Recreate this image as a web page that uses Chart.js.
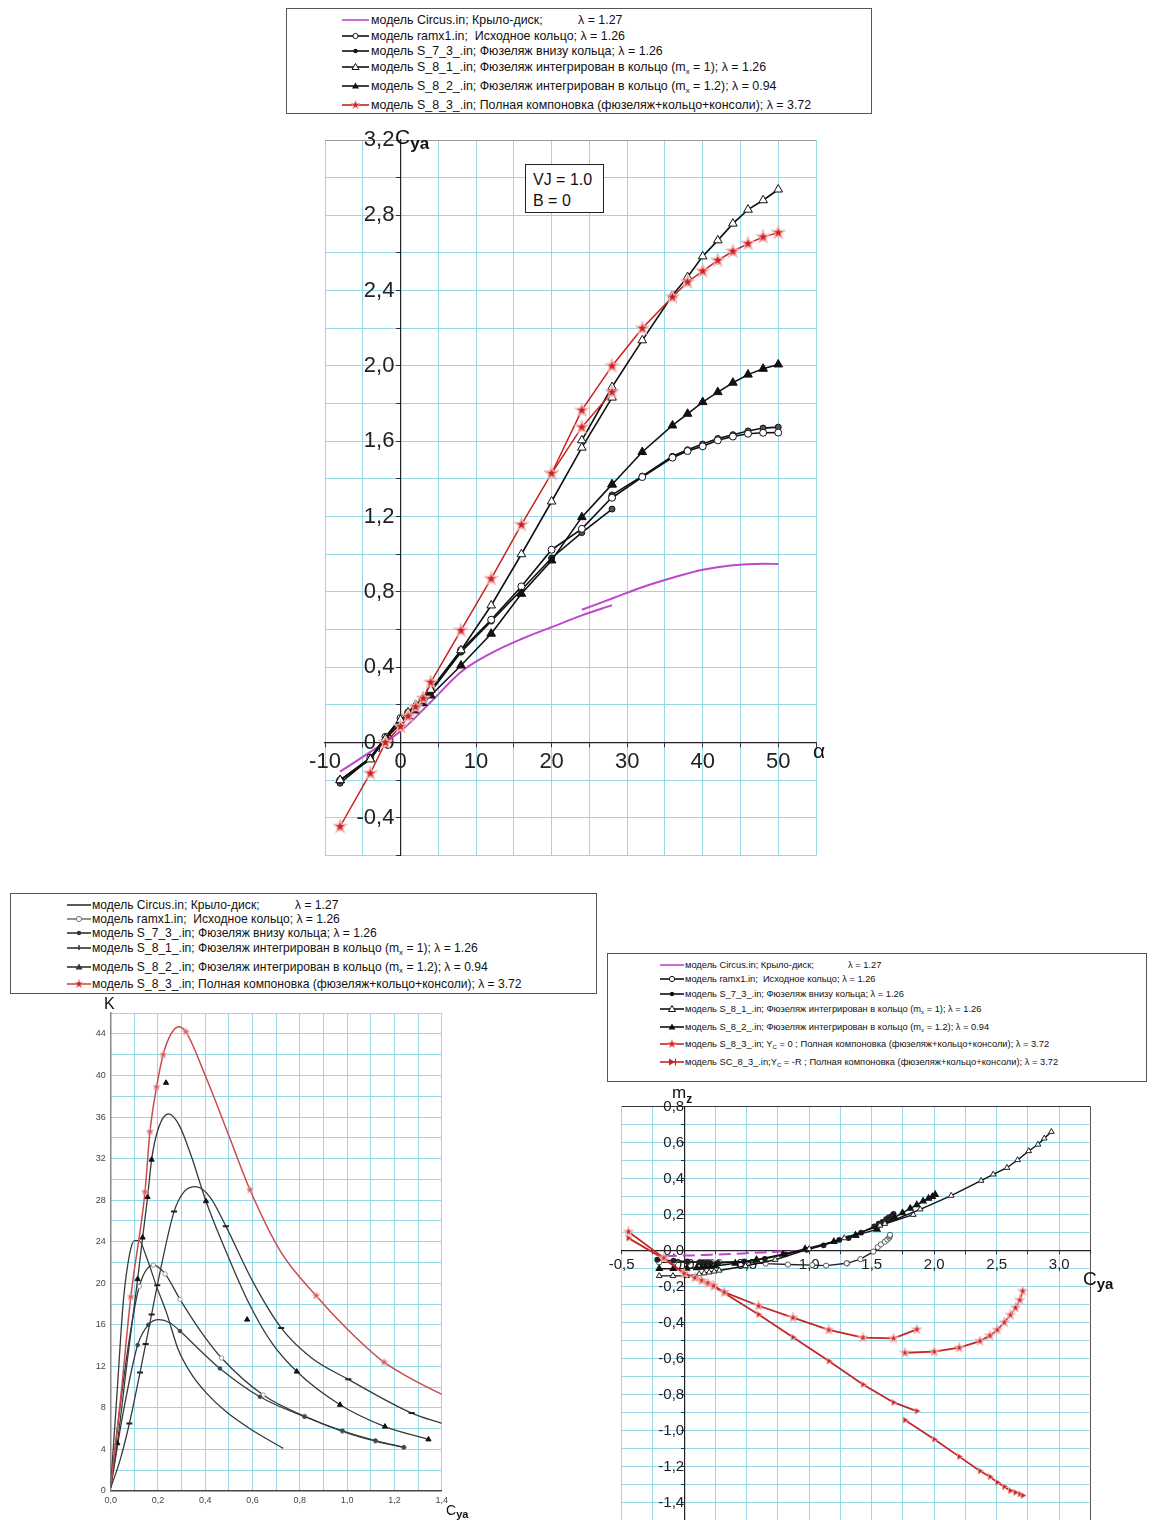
<!DOCTYPE html>
<html lang="ru">
<head>
<meta charset="utf-8">
<title>Cya(α), K(Cya), mz(Cya)</title>
<script src="https://cdn.jsdelivr.net/npm/chart.js@4.4.1/dist/chart.umd.min.js"></script>
<style>
  html, body { margin: 0; padding: 0; background: #fff; }
  body { width: 1152px; height: 1520px; overflow: hidden; position: relative;
         font-family: 'Liberation Sans', Arial, sans-serif; color: #111; }
  canvas { position: absolute; }
  .box { position: absolute; border: 1px solid #555; background: #fff; box-sizing: border-box; }
  .lrow { position: absolute; white-space: nowrap; height: 14px; line-height: 14px; }
  .lrow svg { position: absolute; top: 1px; }
  .lrow .t { position: absolute; top: 0; }
  .sb { font-size: 0.65em; position: relative; top: 0.35em; }
  .lbl { position: absolute; white-space: nowrap; line-height: 1; }
  .lbl b { font-weight: bold; position: relative; }
</style>
</head>
<body>

<div class="box" style="left:286px; top:8px; width:586px; height:106px;"></div>
<div class="box" style="left:10px; top:893px; width:587px; height:101px;"></div>
<div class="box" style="left:607px; top:953px; width:540px; height:129px;"></div>
<div id="legends"></div>

<canvas id="cTop" width="580" height="760" style="left:280px; top:120px;"></canvas>
<canvas id="cK" width="410" height="530" style="left:70px; top:990px;"></canvas>
<canvas id="cMz" width="560" height="460" style="left:580px; top:1080px;"></canvas>

<div class="box" style="left:525px; top:164px; width:79px; height:49px; border-color:#222;"></div>
<div class="lbl" style="left:533px; top:172px; font-size:16px;">VJ = 1.0</div>
<div class="lbl" style="left:533px; top:193px; font-size:16px;">B = 0</div>

<div class="lbl" style="left:395px; top:126px; font-size:21px;">C<b style="font-size:17px; top:5px;">ya</b></div>
<div class="lbl" style="left:813px; top:740px; font-size:21px;">α</div>

<div class="lbl" style="left:104px; top:996px; font-size:16px;">K</div>
<div class="lbl" style="left:446px; top:1503px; font-size:14px;">C<b style="font-size:11px; top:3px;">ya</b></div>

<div class="lbl" style="left:672px; top:1084px; font-size:17px;">m<b style="font-size:12px; top:5px;">z</b></div>
<div class="lbl" style="left:1083px; top:1269px; font-size:19px;">C<b style="font-size:15px; top:4px;">ya</b></div>

<script>
// ---------------------------------------------------------------
// Lift coefficient Cya versus angle of attack α (two test runs each)
// ---------------------------------------------------------------
const alphaA = [-8, -4, -2, 0, 1, 2, 3, 4, 8, 12, 16, 20, 24, 28];
const alphaB = [20, 24, 28, 32, 36, 38, 40, 42, 44, 46, 48, 50];
const alphaCircusA = [-8, -4, 0, 4, 8, 12, 16, 20, 24, 28];
const alphaCircusB = [24, 28, 32, 36, 40, 44, 48, 50];

const cyaCircusA = [-0.155, -0.05, 0.06, 0.215, 0.375, 0.475, 0.55, 0.613, 0.675, 0.73];
const cyaCircusB = [0.705, 0.765, 0.825, 0.875, 0.918, 0.942, 0.95, 0.948];
const cyaRamx1A = [-0.2, -0.08, 0.03, 0.13, 0.16, 0.19, 0.22, 0.28, 0.49, 0.652, 0.829, 1.024, 1.135, 1.303];
const cyaRamx1B = [null, null, 1.30, 1.41, 1.513, 1.548, 1.573, 1.605, 1.625, 1.64, 1.645, 1.646];
const cyaS73A = [-0.216, -0.085, 0.025, 0.12, 0.15, 0.18, 0.21, 0.27, 0.48, 0.645, 0.81, 0.98, 1.115, 1.24];
const cyaS73B = [null, null, 1.315, 1.415, 1.52, 1.555, 1.585, 1.615, 1.635, 1.655, 1.67, 1.675];
const cyaS81A = [-0.2, -0.09, 0.02, 0.12, 0.16, 0.2, 0.24, 0.28, 0.49, 0.728, 1.0, 1.28, 1.566, 1.832];
const cyaS81B = [null, 1.605, 1.888, 2.136, 2.375, 2.472, 2.582, 2.667, 2.756, 2.83, 2.88, 2.937];
const cyaS82A = [-0.2, -0.087, 0.02, 0.1, 0.14, 0.17, 0.21, 0.25, 0.409, 0.578, 0.79, 0.967, 1.197, 1.371];
const cyaS82B = [null, null, 1.37, 1.543, 1.684, 1.746, 1.808, 1.861, 1.911, 1.954, 1.985, 2.008];
const cyaS83A = [-0.446, -0.163, 0.0, 0.085, 0.14, 0.19, 0.235, 0.32, 0.595, 0.87, 1.157, 1.43, 1.675, 1.861];
const cyaS83B = [1.43, 1.765, 2.0, 2.2, 2.366, 2.446, 2.504, 2.561, 2.609, 2.65, 2.685, 2.708];

// ---------------------------------------------------------------
// Pitching moment mz, paired point by point with the Cya runs above
// ---------------------------------------------------------------
const mzCircusA = [-0.03, -0.028, -0.026, -0.022, -0.018, -0.015, -0.012, -0.01, -0.008, -0.006];
const mzCircusB = [-0.007, -0.005, -0.004, -0.003, -0.002, -0.001, 0, 0];
const mzRamx1A = [-0.065, -0.065, -0.064, -0.062, -0.062, -0.062, -0.062, -0.062, -0.063, -0.072, -0.077, -0.08, -0.083, -0.07];
const mzRamx1B = [null, null, -0.07, -0.047, -0.005, 0.02, 0.035, 0.05, 0.062, 0.072, 0.08, 0.088];
const mzS73A = [-0.05, -0.055, -0.06, -0.065, -0.066, -0.067, -0.068, -0.068, -0.06, -0.045, -0.02, 0.005, 0.03, 0.06];
const mzS73B = [null, null, 0.07, 0.1, 0.135, 0.15, 0.16, 0.175, 0.185, 0.19, 0.2, 0.205];
const mzS81A = [-0.14, -0.14, -0.14, -0.13, -0.125, -0.12, -0.115, -0.11, -0.085, -0.05, 0.01, 0.07, 0.14, 0.2];
const mzS81B = [null, 0.15, 0.23, 0.306, 0.389, 0.424, 0.461, 0.504, 0.554, 0.59, 0.624, 0.661];
const mzS82A = [-0.1, -0.1, -0.098, -0.095, -0.093, -0.09, -0.088, -0.085, -0.07, -0.05, -0.02, 0.01, 0.05, 0.085];
const mzS82B = [null, null, 0.085, 0.118, 0.185, 0.21, 0.235, 0.255, 0.275, 0.29, 0.3, 0.312];
const mzS83A = [0.105, -0.04, -0.126, -0.15, -0.165, -0.18, -0.195, -0.23, -0.306, -0.372, -0.44, -0.483, -0.487, -0.437];
const mzS83B = [null, -0.567, -0.561, -0.539, -0.502, -0.472, -0.44, -0.398, -0.357, -0.317, -0.274, -0.224];
const mzSC83A = [0.07, -0.045, -0.126, -0.15, -0.168, -0.185, -0.2, -0.235, -0.354, -0.481, -0.613, -0.743, -0.843, -0.891];
const mzSC83B = [null, -0.941, -1.048, -1.144, -1.224, -1.256, -1.287, -1.311, -1.333, -1.343, -1.352, -1.36];

// ---------------------------------------------------------------
// Lift-to-drag ratio K versus Cya: smoothed curves and measured points
// ---------------------------------------------------------------
const kCircusCurve = [[0,0.5],[0.025,8.8],[0.054,18.4],[0.08,22.8],[0.1,24.1],[0.12,24.1],[0.15,22.6],[0.194,19.7],[0.237,17.1],[0.286,13.6],[0.34,11.3],[0.406,9.4],[0.49,7.6],[0.589,6.0],[0.73,4.1]];
const kRamx1Curve = [[0,0.5],[0.04,8.2],[0.08,14.8],[0.121,19.7],[0.18,21.75],[0.23,20.9],[0.293,18.45],[0.38,15.4],[0.469,12.8],[0.645,9.24],[0.82,7.2],[0.98,5.75],[1.12,4.8],[1.24,4.2]];
const kRamx1Pts = [[0.121,19.7],[0.18,21.75],[0.23,20.9],[0.293,18.45],[0.469,12.8],[0.645,9.24],[0.82,7.2],[0.98,5.75],[1.12,4.8],[1.24,4.2]];
const kS73Curve = [[0,0.3],[0.05,7.2],[0.114,14.05],[0.159,16.0],[0.205,16.5],[0.25,16.2],[0.293,15.4],[0.38,13.5],[0.462,11.8],[0.631,9.07],[0.82,7.15],[0.98,5.8],[1.12,4.85],[1.24,4.2]];
const kS73Pts = [[0.114,14.05],[0.159,16.0],[0.293,15.4],[0.462,11.8],[0.631,9.07],[0.82,7.15],[0.98,5.8],[1.12,4.85],[1.24,4.2]];
const kS81Curve = [[0,0.3],[0.04,3.0],[0.079,6.5],[0.124,11.4],[0.148,14.15],[0.173,17.0],[0.197,19.8],[0.268,26.9],[0.31,28.8],[0.36,29.3],[0.42,28.3],[0.487,25.5],[0.6,20.2],[0.721,15.7],[0.85,12.8],[1.005,10.75],[1.273,7.5],[1.4,6.5]];
const kS81Pts = [[0.079,6.5],[0.124,11.4],[0.148,14.15],[0.173,17.0],[0.197,19.8],[0.268,26.9],[0.487,25.5],[0.721,15.7],[1.005,10.75],[1.273,7.5]];
const kS82Curve = [[0,0.5],[0.028,4.6],[0.07,12.5],[0.114,20.4],[0.135,24.4],[0.156,28.3],[0.173,31.9],[0.2,34.8],[0.245,36.3],[0.29,35.2],[0.34,32.3],[0.403,27.9],[0.5,22.4],[0.58,18.3],[0.68,14.3],[0.787,11.5],[0.97,8.3],[1.16,6.2],[1.344,4.97]];
const kS82Pts = [[0.028,4.6],[0.114,20.4],[0.135,24.4],[0.156,28.3],[0.173,31.9],[0.234,39.3],[0.403,27.9],[0.577,16.5],[0.787,11.5],[0.97,8.3],[1.16,6.2],[1.344,4.97]];
const kS83Curve = [[0,0.5],[0.04,8.5],[0.085,18.7],[0.145,28.8],[0.166,34.6],[0.194,38.9],[0.222,42.0],[0.255,44.0],[0.288,44.7],[0.318,44.2],[0.4,40.0],[0.5,34.2],[0.589,29.0],[0.72,23.0],[0.869,18.8],[1.0,15.6],[1.156,12.4],[1.28,10.7],[1.4,9.3]];
const kS83Pts = [[0.085,18.7],[0.145,28.8],[0.166,34.6],[0.194,38.9],[0.222,42.0],[0.318,44.2],[0.589,29.0],[0.869,18.8],[1.156,12.4]];

// ---------------------------------------------------------------
// Legend texts
// ---------------------------------------------------------------
const MX = 'm<span class="sb">x</span>';
const YC = 'Y<span class="sb">C</span>';
const legendCommon = [
  ['модель Circus.in; Крыло-диск;', 'λ = 1.27'],
  ['модель ramx1.in;&nbsp; Исходное кольцо; λ = 1.26'],
  ['модель S_7_3_.in; Фюзеляж внизу кольца; λ = 1.26'],
  ['модель S_8_1_.in; Фюзеляж интегрирован в кольцо (' + MX + ' = 1); λ = 1.26'],
  ['модель S_8_2_.in; Фюзеляж интегрирован в кольцо (' + MX + ' = 1.2); λ = 0.94']
];
const legendFull = ['модель S_8_3_.in; Полная компоновка (фюзеляж+кольцо+консоли); λ = 3.72'];
const legendMz = [
  ['модель S_8_3_.in; ' + YC + ' = 0 ; Полная компоновка (фюзеляж+кольцо+консоли); λ = 3.72'],
  ['модель SC_8_3_.in;' + YC + ' = -R ; Полная компоновка (фюзеляж+кольцо+консоли); λ = 3.72']
];

// ---------------------------------------------------------------
// Styling helpers
// ---------------------------------------------------------------
const FONT = "'Liberation Sans', Arial, sans-serif";
const GRID = 'rgb(150,216,228)';
const MAGENTA = '#c046cc';
const RED = 'rgb(200,32,32)';
Chart.defaults.font.family = FONT;

const pts = (xs, ys) => xs.map((x, i) => ({ x: x, y: ys[i] }));
const xy = arr => arr.map(p => ({ x: p[0], y: p[1] }));
const comma = v => v.toFixed(1).replace('.', ',');

function starImage(size, fill, stroke, lw) {
  const c = document.createElement('canvas');
  c.width = c.height = size;
  const g = c.getContext('2d');
  const R = size / 2 - lw / 2 - 0.3, r = R * 0.42, m = size / 2;
  g.beginPath();
  for (let i = 0; i < 10; i++) {
    const a = -Math.PI / 2 + i * Math.PI / 5, rr = i % 2 ? r : R;
    g.lineTo(m + rr * Math.cos(a), m + rr * Math.sin(a));
  }
  g.closePath();
  g.fillStyle = fill; g.fill();
  g.lineWidth = lw; g.strokeStyle = stroke; g.stroke();
  return c;
}

function line(data, o) {
  return Object.assign({
    data: data, showLine: true, fill: false, borderWidth: 1.6, borderColor: '#111',
    pointRadius: 0, pointHoverRadius: 0, tension: 0, spanGaps: false
  }, o);
}
function marks(data, o) {
  return Object.assign({ data: data, showLine: false, pointHoverRadius: 0 }, o);
}

function baseOptions(padding, xScale, yScale) {
  return {
    responsive: false, animation: false, events: [],
    layout: { padding: padding },
    plugins: { legend: { display: false }, tooltip: { enabled: false } },
    scales: { x: xScale, y: yScale }
  };
}

function gridColorAt(edges) {
  return ctx => {
    const v = ctx.tick ? ctx.tick.value : null;
    for (const e of edges) if (v !== null && Math.abs(v - e[0]) < 1e-6) return e[1];
    return GRID;
  };
}

// ---------------------------------------------------------------
// Chart 1: Cya(α)
// ---------------------------------------------------------------
const starTop = starImage(15, '#cc1e1e', '#f2b4b4', 1.4);
const sOpenCircle = { pointStyle: 'circle', pointRadius: 3.5, pointBackgroundColor: '#fff', pointBorderColor: '#111', pointBorderWidth: 1 };
const sDot = { pointStyle: 'circle', pointRadius: 3, pointBackgroundColor: '#555', pointBorderColor: '#111', pointBorderWidth: 1 };
const sOpenTri = { pointStyle: 'triangle', pointRadius: 5, pointBackgroundColor: '#fff', pointBorderColor: '#111', pointBorderWidth: 1 };
const sTri = { pointStyle: 'triangle', pointRadius: 5, pointBackgroundColor: '#111', pointBorderColor: '#111', pointBorderWidth: 1 };
const sStar = { pointStyle: starTop, pointRadius: 7, borderColor: RED, borderWidth: 1.5 };

new Chart(document.getElementById('cTop'), {
  type: 'scatter',
  data: { datasets: [
    line(pts(alphaA, cyaS83A), sStar),
    line(pts(alphaB, cyaS83B), sStar),
    line(pts(alphaB, cyaS81B), sOpenTri),
    line(pts(alphaA, cyaS81A), sOpenTri),
    line(pts(alphaB, cyaS82B), sTri),
    line(pts(alphaA, cyaS82A), sTri),
    line(pts(alphaB, cyaRamx1B), sOpenCircle),
    line(pts(alphaA, cyaRamx1A), sOpenCircle),
    line(pts(alphaB, cyaS73B), sDot),
    line(pts(alphaA, cyaS73A), sDot),
    line(pts(alphaCircusA, cyaCircusA), { borderColor: MAGENTA, borderWidth: 2, cubicInterpolationMode: 'monotone' }),
    line(pts(alphaCircusB, cyaCircusB), { borderColor: MAGENTA, borderWidth: 2, cubicInterpolationMode: 'monotone' })
  ]},
  options: baseOptions({ left: 45, top: 20, right: 44, bottom: 24.5 },
    { type: 'linear', min: -10, max: 55, position: { y: 0 },
      grid: { color: GRID, lineWidth: 1, tickLength: 4, tickColor: '#333' },
      border: { color: '#222', width: 1.2 },
      ticks: { stepSize: 5, maxTicksLimit: 1000, autoSkip: false, maxRotation: 0, padding: 2,
               color: '#222', font: { size: 22 },
               callback: v => (Math.round(v) % 10 === 0 ? String(Math.round(v)) : '') } },
    { type: 'linear', min: -0.6, max: 3.2, position: { x: 0 },
      grid: { color: gridColorAt([[3.2, '#9a9a9a']]), lineWidth: 1, tickLength: 4, tickColor: '#333' },
      border: { color: '#222', width: 1.2 },
      ticks: { stepSize: 0.2, maxTicksLimit: 1000, autoSkip: false, padding: 2, color: '#222', font: { size: 22 },
               // trailing space keeps the right-aligned label clear of the axis line
               callback: v => { const c = Math.round(v * 10); return c % 4 === 0 ? comma(c / 10) + ' ' : ''; } } })
});

// ---------------------------------------------------------------
// Chart 2: K(Cya)
// ---------------------------------------------------------------
const KLINE = '#3a3a3a';
const KRED = 'rgb(205,75,75)';
const starK = starImage(9, '#d05050', '#e8a0a0', 1);
const kCurve = { borderColor: KLINE, borderWidth: 1.3, cubicInterpolationMode: 'monotone' };

new Chart(document.getElementById('cK'), {
  type: 'scatter',
  data: { datasets: [
    marks(xy(kS83Pts), { pointStyle: starK, pointRadius: 4.5 }),
    line(xy(kS83Curve), { borderColor: KRED, borderWidth: 1.5, cubicInterpolationMode: 'monotone' }),
    marks(xy(kS82Pts), { pointStyle: 'triangle', pointRadius: 3, pointBackgroundColor: '#111', pointBorderColor: '#111', pointBorderWidth: 1 }),
    line(xy(kS82Curve), kCurve),
    marks(xy(kS81Pts), { pointStyle: 'line', pointRadius: 3, pointBorderColor: '#222', pointBorderWidth: 2 }),
    line(xy(kS81Curve), kCurve),
    marks(xy(kS73Pts), { pointStyle: 'circle', pointRadius: 1.8, pointBackgroundColor: '#444', pointBorderColor: '#444', pointBorderWidth: 1 }),
    line(xy(kS73Curve), kCurve),
    marks(xy(kRamx1Pts), { pointStyle: 'circle', pointRadius: 2.2, pointBackgroundColor: '#fff', pointBorderColor: '#999', pointBorderWidth: 1 }),
    line(xy(kRamx1Curve), kCurve),
    line(xy(kCircusCurve), kCurve)
  ]},
  options: baseOptions({ left: 40.7, top: 23.2, right: 38.3, bottom: 29 },
    { type: 'linear', min: 0, max: 1.4, position: { y: 0 },
      grid: { color: GRID, lineWidth: 1, drawTicks: false },
      border: { color: '#444', width: 1.2 },
      ticks: { stepSize: 0.1, maxTicksLimit: 1000, autoSkip: false, maxRotation: 0, padding: 4,
               color: '#444', font: { size: 9 },
               callback: v => { const c = Math.round(v * 10); return c % 2 === 0 ? comma(c / 10) : ''; } } },
    { type: 'linear', min: 0, max: 46, position: { x: 0 },
      grid: { color: GRID, lineWidth: 1, drawTicks: false },
      border: { color: '#888', width: 1.5 },
      ticks: { stepSize: 2, maxTicksLimit: 1000, autoSkip: false, padding: 2, color: '#444', font: { size: 9 },
               callback: v => (Math.round(v) % 4 === 0 ? String(Math.round(v)) + '  ' : '') } })
});

// ---------------------------------------------------------------
// Chart 3: mz(Cya)
// ---------------------------------------------------------------
const starMz = starImage(11, '#cc2222', '#f0b0b0', 1.2);
const MZRED = 'rgb(196,38,38)';
const mOpenCircle = { pointStyle: 'circle', pointRadius: 2.6, pointBackgroundColor: '#fff', pointBorderColor: '#555', pointBorderWidth: 1, borderColor: '#222', borderWidth: 1.4 };
const mDot = { pointStyle: 'circle', pointRadius: 2.2, pointBackgroundColor: '#222', pointBorderColor: '#222', borderColor: '#111', borderWidth: 1.4 };
const mOpenTri = { pointStyle: 'triangle', pointRadius: 3.3, pointBackgroundColor: '#fff', pointBorderColor: '#222', pointBorderWidth: 1, borderColor: '#111', borderWidth: 1.4 };
const mTri = { pointStyle: 'triangle', pointRadius: 3.3, pointBackgroundColor: '#111', pointBorderColor: '#111', borderColor: '#111', borderWidth: 1.4 };
const mStar = { pointStyle: starMz, pointRadius: 5, borderColor: MZRED, borderWidth: 1.8 };
const mArrow = { pointStyle: 'triangle', rotation: 90, pointRadius: 3.5, pointBackgroundColor: MZRED, pointBorderColor: '#f0a0a0', pointBorderWidth: 1, borderColor: MZRED, borderWidth: 1.8 };
const mCircus = { borderColor: MAGENTA, borderWidth: 2, borderDash: [12, 6], cubicInterpolationMode: 'monotone' };

new Chart(document.getElementById('cMz'), {
  type: 'scatter',
  data: { datasets: [
    line(pts(cyaS83A, mzS83A), mStar),
    line(pts(cyaS83B, mzS83B), mStar),
    line(pts(cyaS83A, mzSC83A), mArrow),
    line(pts(cyaS83B, mzSC83B), mArrow),
    line(pts(cyaS81B, mzS81B), mOpenTri),
    line(pts(cyaS81A, mzS81A), mOpenTri),
    line(pts(cyaS82B, mzS82B), mTri),
    line(pts(cyaS82A, mzS82A), mTri),
    line(pts(cyaS73B, mzS73B), mDot),
    line(pts(cyaS73A, mzS73A), mDot),
    line(pts(cyaRamx1B, mzRamx1B), mOpenCircle),
    line(pts(cyaRamx1A, mzRamx1A), mOpenCircle),
    line(pts(cyaCircusA, mzCircusA), mCircus),
    line(pts(cyaCircusB, mzCircusB), mCircus)
  ]},
  options: baseOptions({ left: 41.7, top: 26.7, right: 49.5, bottom: 19.3 },
    { type: 'linear', min: -0.5, max: 3.25, position: { y: 0 },
      grid: { color: gridColorAt([[3.25, '#555']]), lineWidth: 1, tickLength: 3, tickColor: '#333' },
      border: { color: '#222', width: 1.2 },
      ticks: { stepSize: 0.25, maxTicksLimit: 1000, autoSkip: false, maxRotation: 0, padding: 2,
               color: '#222', font: { size: 15 },
               callback: v => { const c = Math.round(v * 100); return c % 50 === 0 ? comma(c / 100) : ''; } } },
    { type: 'linear', min: -1.5, max: 0.8, position: { x: 0 },
      grid: { color: gridColorAt([[0.8, '#333']]), lineWidth: 1, tickLength: 3, tickColor: '#333' },
      border: { color: '#222', width: 1.2 },
      ticks: { stepSize: 0.1, maxTicksLimit: 1000, autoSkip: false, padding: 3, color: '#222', font: { size: 15 },
               callback: v => { const c = Math.round(v * 10); return c % 2 === 0 ? comma(c / 10) : ''; } } })
});

// ---------------------------------------------------------------
// Legends (HTML rows with small SVG line samples)
// ---------------------------------------------------------------
function starPath(cx, cy, R) {
  const r = R * 0.42; let d = '';
  for (let i = 0; i < 10; i++) {
    const a = -Math.PI / 2 + i * Math.PI / 5, rr = i % 2 ? r : R;
    d += (i ? 'L' : 'M') + (cx + rr * Math.cos(a)).toFixed(2) + ' ' + (cy + rr * Math.sin(a)).toFixed(2);
  }
  return d + 'Z';
}
function sample(kind, color, w) {
  const cx = w / 2, cy = 6;
  let m = '';
  if (kind === 'oc') m = `<circle cx="${cx}" cy="${cy}" r="2.6" fill="#fff" stroke="${color}" stroke-width="1"/>`;
  if (kind === 'dot') m = `<circle cx="${cx}" cy="${cy}" r="2.2" fill="${color}"/>`;
  if (kind === 'ot') m = `<path d="M${cx} ${cy - 3.5}L${cx + 3.5} ${cy + 2.5}L${cx - 3.5} ${cy + 2.5}Z" fill="#fff" stroke="${color}" stroke-width="1"/>`;
  if (kind === 'tri') m = `<path d="M${cx} ${cy - 3.5}L${cx + 3.5} ${cy + 2.5}L${cx - 3.5} ${cy + 2.5}Z" fill="${color}"/>`;
  if (kind === 'tick') m = `<path d="M${cx} ${cy - 3}L${cx} ${cy + 2}" stroke="${color}" stroke-width="1.5"/>`;
  if (kind === 'star') m = `<path d="${starPath(cx, cy, 4.5)}" fill="#cc2222" stroke="#f0b0b0" stroke-width="0.8"/>`;
  if (kind === 'arrow') m = `<path d="M${cx - 3} ${cy - 3.5}L${cx + 3} ${cy}L${cx - 3} ${cy + 3.5}Z" fill="${color}"/><path d="M${cx + 3.5} ${cy - 3.5}L${cx + 3.5} ${cy + 3.5}" stroke="${color}" stroke-width="1.2"/>`;
  return `<svg width="${w}" height="12" viewBox="0 0 ${w} 12"><line x1="0" y1="${cy}" x2="${w}" y2="${cy}" stroke="${color}" stroke-width="1.6"/>${m}</svg>`;
}
function legend(cfg, items) {
  const host = document.getElementById('legends');
  items.forEach((it, i) => {
    const row = document.createElement('div');
    row.className = 'lrow';
    row.style.left = cfg.sampleX + 'px';
    row.style.top = (cfg.ys[i] - 7) + 'px';
    row.style.fontSize = cfg.font + 'px';
    let html = sample(it.kind, it.color, cfg.sampleW);
    html += `<span class="t" style="left:${cfg.textX - cfg.sampleX}px">${it.text[0]}</span>`;
    if (it.text[1]) html += `<span class="t" style="left:${cfg.lamX - cfg.sampleX}px">${it.text[1]}</span>`;
    row.innerHTML = html;
    host.appendChild(row);
  });
}

legend({ sampleX: 342, sampleW: 27, textX: 371, lamX: 578, font: 12.4, ys: [20, 35.7, 51, 66.7, 86, 105] }, [
  { kind: 'line', color: MAGENTA, text: legendCommon[0] },
  { kind: 'oc', color: '#111', text: legendCommon[1] },
  { kind: 'dot', color: '#111', text: legendCommon[2] },
  { kind: 'ot', color: '#111', text: legendCommon[3] },
  { kind: 'tri', color: '#111', text: legendCommon[4] },
  { kind: 'star', color: RED, text: legendFull }
]);
legend({ sampleX: 67, sampleW: 24, textX: 92, lamX: 295, font: 12.1, ys: [905, 919, 933.3, 948.3, 966.7, 984] }, [
  { kind: 'line', color: '#333', text: legendCommon[0] },
  { kind: 'oc', color: '#777', text: legendCommon[1] },
  { kind: 'dot', color: '#333', text: legendCommon[2] },
  { kind: 'tick', color: '#333', text: legendCommon[3] },
  { kind: 'tri', color: '#333', text: legendCommon[4] },
  { kind: 'star', color: KRED, text: legendFull }
]);
legend({ sampleX: 660, sampleW: 24, textX: 685, lamX: 848, font: 9.3, ys: [965, 979.3, 994, 1009.3, 1026.7, 1044.3, 1061.7] }, [
  { kind: 'line', color: MAGENTA, text: legendCommon[0] },
  { kind: 'oc', color: '#111', text: legendCommon[1] },
  { kind: 'dot', color: '#111', text: legendCommon[2] },
  { kind: 'ot', color: '#111', text: legendCommon[3] },
  { kind: 'tri', color: '#111', text: legendCommon[4] },
  { kind: 'star', color: MZRED, text: legendMz[0] },
  { kind: 'arrow', color: MZRED, text: legendMz[1] }
]);
</script>
</body>
</html>
